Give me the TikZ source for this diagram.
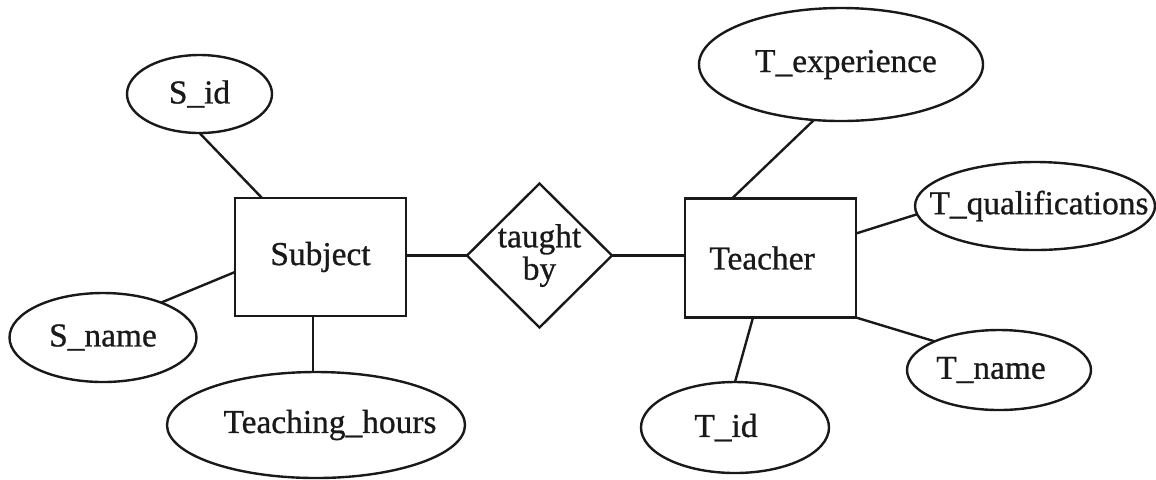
\documentclass[tikz,border=0pt]{standalone}
\usepackage{fontspec}
\setmainfont{Liberation Serif}
\newfontfamily\erfont{Liberation Serif}[FakeBold=0.8]
\usetikzlibrary{shapes.geometric,calc}
\begin{document}
\begin{tikzpicture}[x=0.5pt,y=-0.5pt,
  every node/.style={font=\erfont\fontsize{16.7}{14.5}\selectfont, text=black!90},
  attr/.style={draw=black!90, ellipse, line width=1.2pt, inner sep=-80pt, outer sep=0pt},
  entity/.style={draw=black!90, rectangle, line width=1.2pt, inner sep=0pt, outer sep=0pt},
  relation/.style={draw=black!90, diamond, line width=1.2pt, inner sep=-80pt, outer sep=0pt, align=center},
  link/.style={line width=1.2pt, draw=black!90}]
\useasboundingbox (0,0) rectangle (1156,479);
% entities and relation
\node[entity, minimum width=85.5pt, minimum height=59pt] (subject) at (320.5,257) {Subject};
\node[entity, minimum width=85.5pt, minimum height=59.5pt] (teacher) at (770.5,258) {Teacher\hspace*{8.5pt}};
\node[relation, minimum width=72.5pt, minimum height=72pt] (rel) at (539.5,255.5) {taught\\by};
% attributes
\node[attr, minimum width=72.5pt, minimum height=39pt] (sid) at (199.5,94) {S\_id};
\node[attr, minimum width=93.5pt, minimum height=44.5pt] (sname) at (103,337.5) {S\_name};
\node[attr, minimum width=149pt, minimum height=53pt] (th) at (316,425) {\hspace*{14pt}Teaching\_hours};
\node[attr, minimum width=142pt, minimum height=56.5pt] (texp) at (841,64.5) {\hspace*{5pt}T\_experience};
\node[attr, minimum width=120pt, minimum height=44pt] (tqual) at (1035,206) {\hspace*{4pt}T\_qualifications};
\node[attr, minimum width=92pt, minimum height=40pt] (tname) at (999,370) {T\_name\hspace*{8pt}};
\node[attr, minimum width=94pt, minimum height=45.5pt] (tid) at (735,427.5) {T\_id\hspace*{9pt}};
% connectors
\coordinate (thtop) at ($(subject.south west)+(78,0)$);
\draw[link] (sid.270) -- ($(subject.north west)+(27,0)$);
\draw[link] (sname.31) -- ($(subject.north west)+(0,74)$);
\draw[link] (thtop) -- (thtop |- th.north);
\draw[link] (subject.east |- rel.west) -- (rel.west);
\draw[link] (rel.east) -- (rel.east -| teacher.west);
\draw[link] (texp.244) -- ($(teacher.north west)+(47,0)$);
\draw[link] (tqual.184) -- ($(teacher.north east)+(0,35)$);
\draw[link] (tname.156) -- (teacher.south east);
\draw[link] (tid.90) -- ($(teacher.south west)+(68,0)$);
\end{tikzpicture}
\end{document}
